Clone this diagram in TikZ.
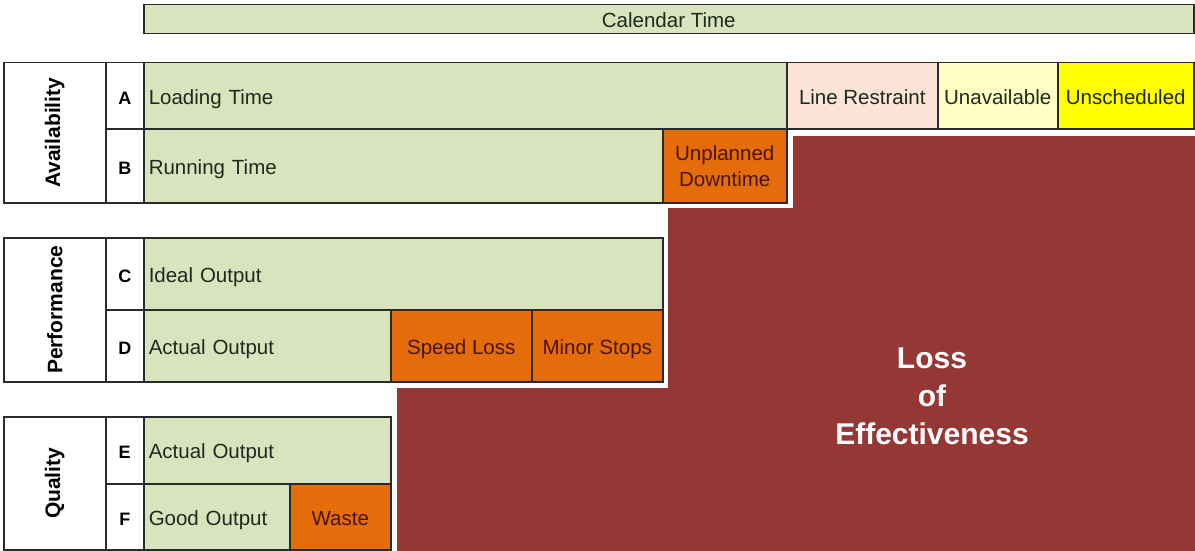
\documentclass[tikz,border=0pt]{standalone}
\usepackage{fontspec}
\setmainfont{Liberation Sans}
\definecolor{cgreen}{HTML}{D7E4BD}
\definecolor{corange}{HTML}{E46C0A}
\definecolor{cbrown}{HTML}{953735}
\definecolor{cpeach}{HTML}{FCE4D6}
\definecolor{clyellow}{HTML}{FFFFC4}
\definecolor{cyellow}{HTML}{FFFF00}
\definecolor{linec}{HTML}{2A2A2A}
\definecolor{gtext}{HTML}{1E2A1E}
\definecolor{otext}{HTML}{4A1400}
\tikzset{
  cell/.style={draw=linec, line width=1.5pt, inner sep=0pt, anchor=north west,
    font=\fontsize{20.5}{26}\selectfont, align=center},
  oneline/.style={text height=17pt, text depth=0pt},
  greencell/.style={cell, oneline, fill=cgreen, text=gtext},
  orangecell/.style={cell, oneline, fill=corange, text=otext},
  twoline/.style={cell, fill=corange, text=otext},
  whitecell/.style={cell, fill=white},
  lettertext/.style={oneline, font=\bfseries\fontsize{18}{20}\selectfont, text=black},
  sidetext/.style={font=\bfseries\fontsize{21}{24}\selectfont, text=black, rotate=90},
  losstext/.style={font=\bfseries\fontsize{30}{38}\selectfont, text=white, align=center},
}
\newcommand\cellbox[7]{%
  \pgfmathsetmacro\cw{#4-#2}\pgfmathsetmacro\ch{#5-#3}%
  \node[#6, minimum width=\cw pt, minimum height=\ch pt] (#1) at (#2,#3) {#7};}
\newcommand\cellboxL[7]{%
  \pgfmathsetmacro\cw{#4-#2}\pgfmathsetmacro\ch{#5-#3}\pgfmathsetmacro\tw{#4-#2-10}%
  \node[#6, minimum width=\cw pt, minimum height=\ch pt, text width=\tw pt, inner xsep=5pt, align=left] (#1) at (#2,#3) {#7};}
\begin{document}
\begin{tikzpicture}[x=1pt,y=-1pt]
\useasboundingbox (0,0) rectangle (1195,551);
% loss region
\fill[cbrown] (793,136) -- (1195,136) -- (1195,551) -- (397,551) -- (397,388)
  -- (668,388) -- (668,208) -- (793,208) -- cycle;
\node[losstext] (loss) at (932,396) {Loss\\of\\Effectiveness};
% calendar
\cellbox{cal}{143}{4}{1193}{33}{greencell}{Calendar Time}
% availability
\cellbox{availcell}{3}{62}{105}{202}{whitecell}{}
\node[sidetext] (avail) at (availcell.center) {Availability};
\cellbox{A}{105}{62}{143}{128}{whitecell,lettertext}{A}
\cellbox{B}{105}{128}{143}{202}{whitecell,lettertext}{B}
\cellboxL{loading}{143}{62}{786}{128}{greencell}{Loading Time}
\cellbox{restraint}{786}{62}{937}{128}{cell,oneline,fill=cpeach,text=gtext}{Line Restraint}
\cellbox{unavail}{937}{62}{1057}{128}{cell,oneline,fill=clyellow,text=gtext}{Unavailable}
\cellbox{unsched}{1057}{62}{1193}{128}{cell,oneline,fill=cyellow,text=gtext}{Unscheduled}
\cellboxL{running}{143}{128}{662}{202}{greencell}{Running Time}
\cellbox{downtime}{662}{128}{786}{202}{twoline}{Unplanned\\Downtime}
% performance
\cellbox{perfcell}{3}{237}{105}{381}{whitecell}{}
\node[sidetext] (perf) at (perfcell.center) {Performance};
\cellbox{C}{105}{237}{143}{309}{whitecell,lettertext}{C}
\cellbox{D}{105}{309}{143}{381}{whitecell,lettertext}{D}
\cellboxL{ideal}{143}{237}{662}{309}{greencell}{Ideal Output}
\cellboxL{actualD}{143}{309}{390}{381}{greencell}{Actual Output}
\cellbox{speed}{390}{309}{531}{381}{orangecell}{Speed Loss}
\cellbox{minor}{531}{309}{662}{381}{orangecell}{Minor Stops}
% quality
\cellbox{qualcell}{3}{416}{105}{549}{whitecell}{}
\node[sidetext] (qual) at (qualcell.center) {Quality};
\cellbox{E}{105}{416}{143}{483}{whitecell,lettertext}{E}
\cellbox{F}{105}{483}{143}{549}{whitecell,lettertext}{F}
\cellboxL{actualE}{143}{416}{390}{483}{greencell}{Actual Output}
\cellboxL{good}{143}{483}{289}{549}{greencell}{Good Output}
\cellbox{waste}{289}{483}{390}{549}{orangecell}{Waste}
\end{tikzpicture}
\end{document}
